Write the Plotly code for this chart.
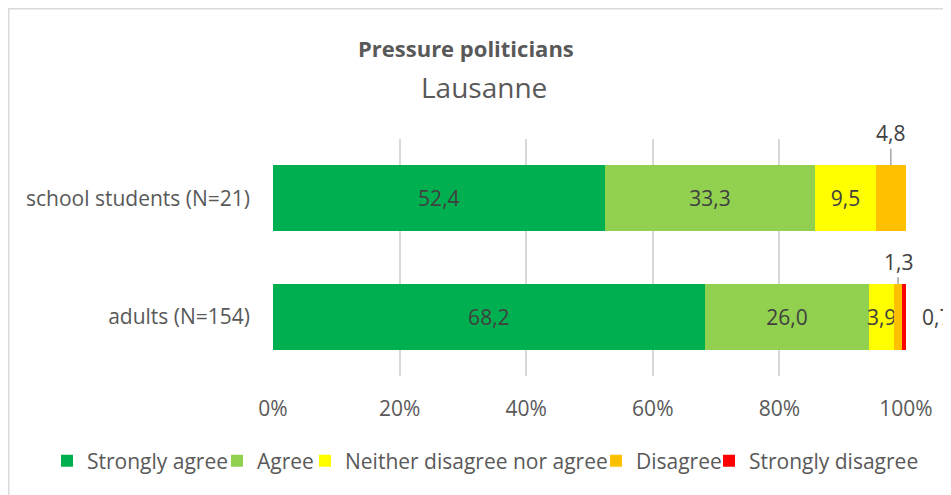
import plotly.graph_objects as go

categories = ["adults (N=154)", "school students (N=21)"]
series_names = ["Strongly agree", "Agree", "Neither disagree nor agree", "Disagree", "Strongly disagree"]
strongly_agree = [68.2, 52.4]
agree = [26.0, 33.3]
neither = [3.9, 9.5]
disagree = [1.3, 4.8]
strongly_disagree = [0.7, 0.0]
colors = ["#00B050", "#92D050", "#FFFF00", "#FFC000", "#FF0000"]
tick_vals = [0, 20, 40, 60, 80, 100]
tick_text = ["0%", "20%", "40%", "60%", "80%", "100%"]

series = [strongly_agree, agree, neither, disagree, strongly_disagree]
# label style per series: inside the bar, callout above, or outside right
label_modes = ["inside", "inside", "inside", "callout", "outside"]
callout_lift = {categories[0]: -22, categories[1]: -32}
legend_widths = [125, 43, 246, 68, 0]

FONT = "Open Sans"
LABEL_COLOR = "#404040"
AXIS_COLOR = "#595959"
W, H = 951, 487
ML, MR, MT, MB = 265, 53, 131, 119
PW, PH = W - ML - MR, H - MT - MB


def fmt(v):
    return f"{v:.1f}".replace(".", ",")


fig = go.Figure()
for name, vals, col, mode, lw in zip(series_names, series, colors, label_modes, legend_widths):
    texts = [fmt(v) if (mode == "inside" and v > 0) else "" for v in vals]
    fig.add_trace(go.Bar(
        y=categories, x=vals, name=name, orientation="h",
        marker=dict(color=col, line=dict(width=0)),
        text=texts, textposition="inside", insidetextanchor="middle", textangle=0,
        textfont=dict(family=FONT, size=21, color=LABEL_COLOR),
        constraintext="none",
        legendwidth=lw if lw else None,
        hoverinfo="x+name",
    ))

annotations = []
for ci, cat in enumerate(categories):
    cum = 0
    for si, vals in enumerate(series):
        v = vals[ci]
        if v > 0 and label_modes[si] == "callout":
            annotations.append(dict(
                x=cum + v / 2, y=cat, xref="x", yref="y", text=fmt(v), showarrow=True,
                arrowhead=0, arrowwidth=1.5, arrowcolor="#A6A6A6",
                ax=0, ay=callout_lift[cat], yshift=33, standoff=0,
                font=dict(family=FONT, size=21, color=LABEL_COLOR),
            ))
        elif v > 0 and label_modes[si] == "outside":
            annotations.append(dict(
                x=cum + v / 2, y=cat, xref="x", yref="y", text=fmt(v), showarrow=False,
                xanchor="left", xshift=16,
                font=dict(family=FONT, size=21, color=LABEL_COLOR),
            ))
        cum += v

annotations.append(dict(x=(458 - ML) / PW, y=1.0, xref="paper", yref="paper",
                        yshift=MT - 40, yanchor="middle", xanchor="center",
                        text="<b>Pressure politicians</b>", showarrow=False,
                        font=dict(family=FONT, size=22, color=AXIS_COLOR)))
annotations.append(dict(x=(476 - ML) / PW, y=1.0, xref="paper", yref="paper",
                        yshift=MT - 79, yanchor="middle", xanchor="center",
                        text="Lausanne", showarrow=False,
                        font=dict(family=FONT, size=28, color=AXIS_COLOR)))

fig.update_layout(
    width=W, height=H,
    margin=dict(l=ML, r=MR, t=MT, b=MB, autoexpand=False),
    barmode="stack", bargap=0.443,
    separators=",.",
    paper_bgcolor="white", plot_bgcolor="white",
    font=dict(family=FONT, size=21, color=AXIS_COLOR),
    showlegend=True,
    legend=dict(orientation="h", x=(39 - ML) / PW, xanchor="left",
                y=(MT + PH - 453) / PH, yanchor="middle",
                font=dict(family=FONT, size=21, color=AXIS_COLOR),
                traceorder="normal", bgcolor="rgba(0,0,0,0)"),
    annotations=annotations,
    shapes=[dict(type="rect", xref="paper", yref="paper",
                 x0=(0.7 - ML) / PW, x1=1.2, y0=-0.7, y1=(MT + PH - 0.7) / PH,
                 line=dict(color="#D9D9D9", width=1.5), layer="below")],
    uniformtext=dict(mode="show", minsize=21),
)
fig.update_xaxes(range=[0, 100], autorange=False, tickvals=tick_vals, ticktext=tick_text,
                 showgrid=True, gridcolor="#D9D9D9", gridwidth=1.5,
                 zeroline=False, showline=False, ticks="", ticklabelstandoff=18,
                 tickfont=dict(family=FONT, size=21, color=AXIS_COLOR), fixedrange=True)
fig.update_yaxes(range=[-0.5, len(categories) - 0.5], autorange=False,
                 showgrid=False, zeroline=False, showline=False, ticks="",
                 ticklabelstandoff=22,
                 tickfont=dict(family=FONT, size=21, color=AXIS_COLOR), fixedrange=True)

fig.write_html("out.html")
